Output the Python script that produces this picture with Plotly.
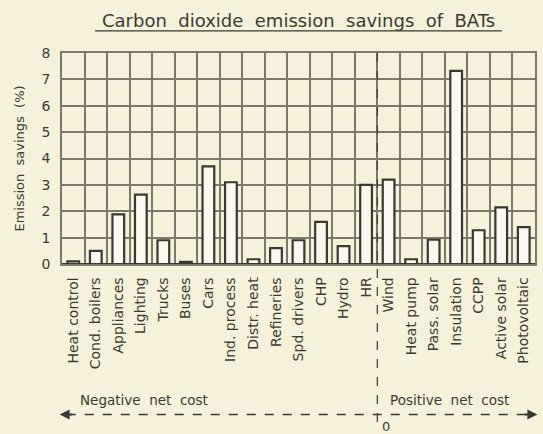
import plotly.graph_objects as go

categories = ["Heat control", "Cond. boilers", "Appliances", "Lighting", "Trucks",
              "Buses", "Cars", "Ind. process", "Distr. heat", "Refineries",
              "Spd. drivers", "CHP", "Hydro", "HR", "Wind", "Heat pump",
              "Pass. solar", "Insulation", "CCPP", "Active solar", "Photovoltaic"]
savings = [0.1, 0.5, 1.88, 2.63, 0.9, 0.08, 3.7, 3.1, 0.18, 0.6,
           0.9, 1.6, 0.68, 3.0, 3.2, 0.18, 0.92, 7.32, 1.28, 2.15, 1.4]
y_ticks = [0, 1, 2, 3, 4, 5, 6, 7, 8]

BG = "#f5f1da"
GRID = "#7d786c"
DARK = "#3a3833"
TXT = "#3c3a35"
FONT = "DejaVu Sans"

fig = go.Figure()
fig.add_trace(go.Bar(
    x=categories, y=savings, width=0.52,
    marker=dict(color="#fbf9ef", line=dict(color=DARK, width=2.2)),
    hoverinfo="x+y",
))

# divider between negative and positive net cost
fig.add_shape(type="line", xref="x", yref="paper", x0=13.5, x1=13.5, y0=1, y1=-0.78,
              line=dict(color=DARK, width=1.2, dash="dash"))
# cost arrows
fig.add_shape(type="line", xref="paper", yref="paper", x0=0.01, x1=0.99, y0=-0.713, y1=-0.713,
              line=dict(color=DARK, width=1.4, dash="dash"))
fig.add_annotation(xref="paper", yref="paper", x=-0.005, y=-0.713, ax=14, ay=0,
                   showarrow=True, arrowhead=2, arrowsize=1,
                   arrowwidth=2, arrowcolor=DARK, text="")
fig.add_annotation(xref="paper", yref="paper", x=1.005, y=-0.713, ax=-14, ay=0,
                   showarrow=True, arrowhead=2, arrowsize=1,
                   arrowwidth=2, arrowcolor=DARK, text="")
fig.add_annotation(xref="paper", yref="paper", x=0.033, y=-0.645, xanchor="left", yanchor="middle",
                   text="Negative  net  cost", showarrow=False, font=dict(family=FONT, size=13.5, color=TXT))
fig.add_annotation(xref="paper", yref="paper", x=0.689, y=-0.645, xanchor="left", yanchor="middle",
                   text="Positive  net  cost", showarrow=False, font=dict(family=FONT, size=13.5, color=TXT))
fig.add_annotation(xref="paper", yref="paper", x=0.672, y=-0.77, xanchor="left", yanchor="middle",
                   text="0", showarrow=False, font=dict(family=FONT, size=13, color=TXT))

# title with underline
fig.add_annotation(xref="paper", yref="paper", x=0.5, y=1.155, xanchor="center", yanchor="middle",
                   text="Carbon  dioxide  emission  savings  of  BATs", showarrow=False,
                   font=dict(family=FONT, size=18, color=TXT))
fig.add_shape(type="line", xref="paper", yref="paper", x0=0.07, x1=0.93, y0=1.105, y1=1.105,
              line=dict(color=DARK, width=1.3))

fig.update_layout(
    width=543, height=434,
    margin=dict(l=62, r=6, t=53, b=170),
    paper_bgcolor=BG, plot_bgcolor=BG,
    showlegend=False,
    font=dict(family=FONT, color=TXT),
    bargap=0.48,
)
fig.update_xaxes(
    type="category", tickson="boundaries", showgrid=True, gridcolor=GRID, gridwidth=1.5,
    tickangle=-90, tickfont=dict(size=14, family=FONT, color=TXT), ticks="",
    showline=True, mirror=True, linecolor=GRID, linewidth=1.5, ticklabelstandoff=6,
)
fig.update_yaxes(
    range=[0, 8], tickvals=y_ticks, showgrid=True, gridcolor=GRID, gridwidth=1.5,
    zeroline=True, zerolinecolor=DARK, zerolinewidth=2.5,
    tickfont=dict(size=14, family=FONT, color=TXT), ticks="", ticklabelstandoff=7,
    showline=True, mirror=True, linecolor=GRID, linewidth=1.5,
    title=dict(text="Emission  savings  (%)", font=dict(size=13, family=FONT, color=TXT), standoff=14),
)

fig.write_html("out.html", config={"displayModeBar": False},
               post_script="document.body.style.margin='0px';")
